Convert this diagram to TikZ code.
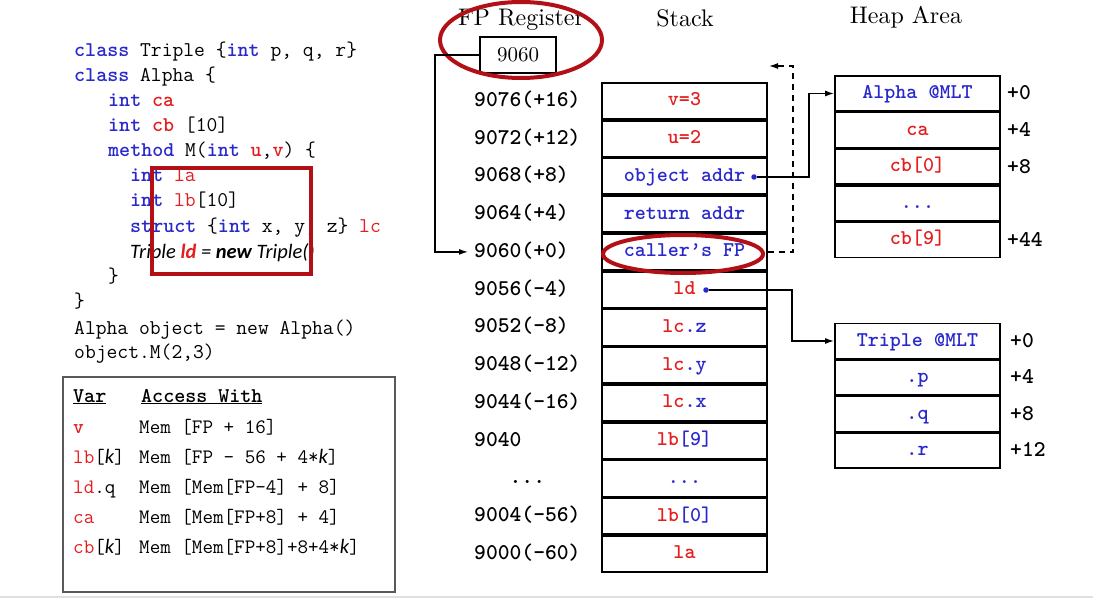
\documentclass[tikz,border=0pt]{standalone}
\usepackage{fontspec}
\newfontfamily\calfont{Carlito}
\newfontfamily\headfont{lmroman10-regular.otf}
\usetikzlibrary{arrows.meta}
\usetikzlibrary{calc}
\newcommand{\kw}[1]{\textcolor{kwblue}{\bfseries #1}}
\newcommand{\vr}[1]{\textcolor{vred}{#1}}
\newcommand{\rtt}[1]{\textcolor{vred}{#1}}
\newcommand{\btt}[1]{\textcolor{kwblue}{#1}}
\newcommand{\kk}{{\calfont\itshape k}}

\begin{document}
\begin{tikzpicture}[x=1pt,y=-1pt]
  \definecolor{kwblue}{RGB}{40,40,205}
  \definecolor{vred}{RGB}{228,30,30}
  \definecolor{ringred}{RGB}{178,16,22}
  \tikzset{
    code/.style={anchor=base west,inner sep=0pt,font=\ttfamily\fontsize{21}{25}\selectfont},
    head/.style={inner sep=0pt,font=\headfont\fontsize{24}{28}\selectfont},
    addr/.style={anchor=west,inner sep=0pt,text height=15pt,text depth=4pt,font=\ttfamily\bfseries\fontsize{22.5}{26}\selectfont},
    cell/.style={draw,line width=1.8pt,minimum width=165pt,minimum height=36pt,inner sep=0pt,text height=14pt,text depth=4pt,font=\ttfamily\bfseries\fontsize{21}{25}\selectfont},
    off/.style={addr},
    ptr/.style={circle,fill=kwblue,inner sep=0pt,minimum size=5.5pt},
    conn/.style={line width=1.4pt,-{Latex[length=9pt,width=6pt]}},
    ring/.style={ringred,line width=4pt},
  }
  \useasboundingbox (0,0) rectangle (1093,599);

  % source code
  \foreach \x/\y/\txt [count=\n] in {
    74/57/{\kw{class} Triple \{\kw{int} p, q, r\}},
    74/82/{\kw{class} Alpha \{},
    108/107/{\kw{int} \vr{\bfseries ca}},
    108/132/{\kw{int} \vr{\bfseries cb} [10]},
    108/157/{\kw{method} M(\kw{int} \vr{\bfseries u},\vr{\bfseries v}) \{},
    130/182/{\kw{int} \vr{la}},
    130/207/{\kw{int} \vr{lb}[10]},
    130/233/{\kw{struct} \{\kw{int} x, y, z\} \vr{lc}},
    130/258/{{\calfont\fontsize{20.5}{25}\selectfont\itshape Triple \textcolor{vred}{\bfseries ld} = {\bfseries new} Triple()}},
    108/282/{\}},
    74/307/{\}},
    74/334/{Alpha object = new Alpha()},
    74/358/{object.M(2,3)}} {
    \node[code] (c\n) at (\x,\y) {\txt};
  }
  \draw[ring] (152,168) rectangle (311,274);

  % access table
  \draw[black!65,line width=1.2pt] (63,377) rectangle (395,592);
  \node[code] (vh) at (73,402) {\bfseries\underline{Var}};
  \node[code] (ah) at (141,402) {\bfseries\underline{Access With}};
  \foreach \v/\m [count=\n] in {
    {\vr{\bfseries v}}/{Mem [FP + 16]},
    {\vr{lb}[\kk]}/{Mem [FP - 56 + 4*\kk]},
    {\vr{ld}.q}/{Mem [Mem[FP-4] + 8]},
    {\vr{ca}}/{Mem [Mem[FP+8] + 4]},
    {\vr{cb}[\kk]}/{Mem [Mem[FP+8]+8+4*\kk]}} {
    \node[code,font=\ttfamily\fontsize{20.5}{25}\selectfont] (v\n) at (73,{403+30*\n}) {\v};
    \node[code,font=\ttfamily\fontsize{20.5}{25}\selectfont] (m\n) at (139,{403+30*\n}) {\m};
  }

  % headings and FP register
  \node[head] (hfp) at (521,20) {FP Register};
  \node[head] (hst) at (685,18) {Stack};
  \node[head] (hhp) at (906,17) {Heap Area};
  \node[draw,line width=1.5pt,minimum width=76pt,minimum height=36pt,inner sep=0pt,font=\headfont\fontsize{21}{25}\selectfont] (fp) at (518,55) {9060};
  \draw[ring] (521,40) ellipse [x radius=81pt,y radius=38pt];

  % stack frame
  \foreach \lbl/\txt [count=\i from 0] in {
    9076(+16)/{\rtt{v=3}},
    9072(+12)/{\rtt{u=2}},
    9068(+8)/{\btt{object addr}},
    9064(+4)/{\btt{return addr}},
    9060(+0)/{\btt{caller’s FP}},
    9056(-4)/{\rtt{ld}},
    9052(-8)/{\rtt{lc}\btt{.z}},
    9048(-12)/{\rtt{lc}\btt{.y}},
    9044(-16)/{\rtt{lc}\btt{.x}},
    9040/{\rtt{lb}\btt{[9]}},
    {\phantom{000}...}/{\btt{...}},
    9004(-56)/{\rtt{lb}\btt{[0]}},
    9000(-60)/{\rtt{la}}} {
    \node[addr] (a\i) at (474,{100.9+37.75*\i}) {\lbl};
    \node[cell] (s\i) at (684.5,{100.9+37.75*\i}) {\txt};
  }
  \node[ptr] (objdot) at (754,177) {};
  \node[ptr] (lddot) at (706,290) {};
  \draw[ring] (683,254) ellipse [x radius=80pt,y radius=19pt];

  % heap objects
  \foreach \txt/\o [count=\i from 0] in {
    {\btt{Alpha @MLT}}/+0, {\rtt{ca}}/+4, {\rtt{cb[0]}}/+8, {\btt{...}}/{}, {\rtt{cb[9]}}/+44} {
    \node[cell,minimum height=35pt] (h\i) at (917.5,{93.5+36.6*\i}) {\txt};
    \node[off] (ho\i) at (1007,{94.5+36.6*\i}) {\o};
  }
  \foreach \txt/\o [count=\i from 0] in {
    {\btt{Triple @MLT}}/+0, {\btt{.p}}/+4, {\btt{.q}}/+8, {\btt{.r}}/+12} {
    \node[cell,minimum height=35pt] (t\i) at (917.5,{341+36.5*\i}) {\txt};
    \node[off] (to\i) at (1010,{341.5+36.5*\i}) {\o};
  }

  % pointers
  \coordinate (fpc) at (435,55);
  \coordinate (retc) at (769,66);
  \draw[conn,shorten >=6pt] (fp.west) -- (fpc) |- (a4.west);
  \draw[conn,dashed,dash pattern=on 6pt off 5pt] (s4.east) -- ++(25,0) |- (retc);
  \draw[conn] (objdot) -- ++(55,0) |- (h0.west);
  \draw[conn] (lddot) -- ++(86,0) |- (t0.west);

  \draw[black!12,line width=2pt] (0,597) -- (1093,597);
\end{tikzpicture}
\end{document}
